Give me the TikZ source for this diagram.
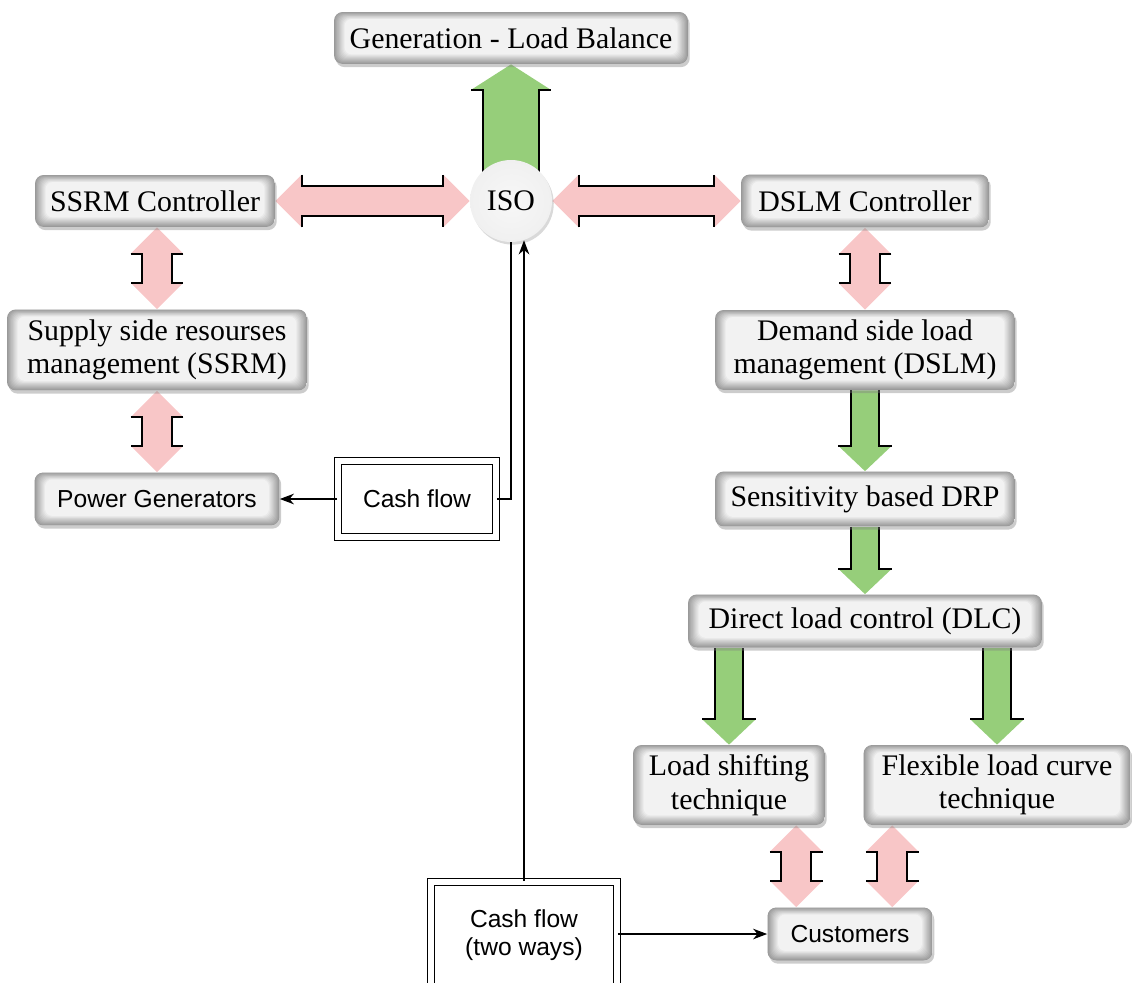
\documentclass[tikz,border=0pt]{standalone}
\usepackage{fontspec}
\setmainfont{Liberation Serif}
\newfontfamily\sansfont{Liberation Sans}
\usetikzlibrary{calc,shadows,arrows.meta,backgrounds}

\definecolor{pinkfill}{RGB}{248,198,199}
\definecolor{greenfill}{RGB}{150,206,122}

\pgfdeclareradialshading{isoshade}{\pgfpoint{0bp}{0bp}}{color(0bp)=(gray!6); color(26bp)=(gray!12); color(40bp)=(gray!30); color(50bp)=(gray!72)}

\tikzset{
  box/.style={rounded corners=5pt, fill=gray!15, align=center,
    font=\fontsize{17}{19}\selectfont,
    drop shadow={shadow xshift=1pt, shadow yshift=-1.8pt, opacity=0.4, fill=gray},
    path picture={\foreach \i [evaluate=\i as \c using int(80-7*\i)] in {0,...,10}{
      \fill[gray!\c, rounded corners=4pt]
        ([shift={(\i*0.6pt,\i*0.55pt)}]path picture bounding box.south west) rectangle
        ([shift={(-\i*0.6pt,-\i*0.4pt)}]path picture bounding box.north east);}}},
  sbox/.style={box, font=\sansfont\fontsize{14}{16}\selectfont},
  cashbox/.style={draw, double, double distance=3pt, line width=0.9pt, align=center,
    font=\sansfont\fontsize{14}{16}\selectfont},
  link/.style={line width=0.9pt, -{Stealth[length=8pt,width=6pt,inset=2.5pt]}}
}

% fat single arrow: from, tip, shaft half width, head half width, colour
\newcommand{\fatarrow}[5]{%
  \coordinate (hb) at ($(#2)!14.5pt!(#1)$);
  \fill[#5] ($(#1)!#3!90:(#2)$) -- ($(hb)!#3!90:(#2)$) -- ($(hb)!#4!90:(#2)$) -- (#2)
    -- ($(hb)!#4!-90:(#2)$) -- ($(hb)!#3!-90:(#2)$) -- ($(#1)!#3!-90:(#2)$) -- cycle;
  \draw[line width=1pt] ($(#1)!#3!90:(#2)$) -- ($(hb)!#3!90:(#2)$) -- ($(hb)!#4!90:(#2)$);
  \draw[line width=1pt] ($(#1)!#3!-90:(#2)$) -- ($(hb)!#3!-90:(#2)$) -- ($(hb)!#4!-90:(#2)$);
}

% pink double arrow between two points
\newcommand{\dblarrow}[2]{%
  \coordinate (ha) at ($(#1)!15pt!(#2)$);
  \coordinate (hb) at ($(#2)!15pt!(#1)$);
  \fill[pinkfill] (#1) -- ($(ha)!15pt!90:(#2)$) -- ($(ha)!8.5pt!90:(#2)$) -- ($(hb)!8.5pt!90:(#2)$)
    -- ($(hb)!15pt!90:(#2)$) -- (#2) -- ($(hb)!15pt!-90:(#2)$) -- ($(hb)!8.5pt!-90:(#2)$)
    -- ($(ha)!8.5pt!-90:(#2)$) -- ($(ha)!15pt!-90:(#2)$) -- cycle;
  \draw[line width=1pt] ($(ha)!15pt!90:(#2)$) -- ($(ha)!8.5pt!90:(#2)$) -- ($(hb)!8.5pt!90:(#2)$) -- ($(hb)!15pt!90:(#2)$);
  \draw[line width=1pt] ($(ha)!15pt!-90:(#2)$) -- ($(ha)!8.5pt!-90:(#2)$) -- ($(hb)!8.5pt!-90:(#2)$) -- ($(hb)!15pt!-90:(#2)$);
}

\begin{document}
\begin{tikzpicture}[x=0.02cm, y=-0.02cm]

    \useasboundingbox (0,0) rectangle (1132,983);
    \clip (0,0) rectangle (1132,983);

    % Boxes
    \node[box, minimum width=7.08cm, minimum height=1.04cm] (glb) at (511,38) {Generation - Load Balance};
    \node[box, minimum width=4.8cm, minimum height=1.04cm] (ssrmc) at (155,201) {SSRM Controller};
    \node[box, minimum width=6.0cm, minimum height=1.62cm] (ssrm) at (157,350) {Supply side resourses\\management (SSRM)};
    \node[sbox, minimum width=4.9cm, minimum height=1.06cm] (gen) at (157,499) {Power Generators};
    \node[box, minimum width=4.96cm, minimum height=1.06cm] (dslmc) at (865,201) {DSLM Controller};
    \node[box, minimum width=6.0cm, minimum height=1.6cm] (dslm) at (865,350) {Demand side load\\management (DSLM)};
    \node[box, minimum width=6.0cm, minimum height=1.1cm] (drp) at (865,499) {Sensitivity based DRP};
    \node[box, minimum width=7.08cm, minimum height=1.06cm] (dlc) at (865,621) {Direct load control (DLC)};
    \node[box, minimum width=3.84cm, minimum height=1.6cm] (shift) at (729,785) {Load shifting\\technique};
    \node[box, minimum width=5.34cm, minimum height=1.6cm] (flex) at (997,785) {Flexible load curve\\technique};
    \node[sbox, minimum width=3.3cm, minimum height=1.06cm] (cust) at (850,934) {Customers};

    % ISO
    \node[circle, minimum size=1.64cm, inner sep=0pt, shading=isoshade,
          drop shadow={shadow xshift=1pt, shadow yshift=-1.5pt, opacity=0.3, fill=gray},
          font=\fontsize{17}{19}\selectfont] (iso) at (511,201) {ISO};

    % Cash flow boxes
    \node[cashbox, minimum width=3.16cm, minimum height=1.52cm] (cash1) at (417,499) {Cash flow};
    \node[cashbox, minimum width=3.72cm, minimum height=2.12cm] (cash2) at (524,935) {Cash flow\\(two ways)};

    % Fat arrows
    \begin{scope}[on background layer]
        \fatarrow{iso.center}{glb.south}{15.9pt}{22.7pt}{greenfill}
        \dblarrow{ssrmc.east}{iso.west}
        \dblarrow{iso.east}{dslmc.west}
        \coordinate (p1) at (ssrm.north |- ssrmc.south);
        \dblarrow{p1}{ssrm.north}
        \dblarrow{ssrm.south}{gen.north}
        \dblarrow{dslmc.south}{dslm.north}
        \fatarrow{dslm.south}{drp.north}{7.9pt}{15.3pt}{greenfill}
        \fatarrow{drp.south}{dlc.north}{7.9pt}{15.3pt}{greenfill}
        \coordinate (g1) at (dlc.south -| shift.north);
        \fatarrow{g1}{shift.north}{7.9pt}{15.3pt}{greenfill}
        \coordinate (g2) at (dlc.south -| flex.north);
        \fatarrow{g2}{flex.north}{7.9pt}{15.3pt}{greenfill}
        \coordinate (c1) at ([xshift=0.58cm]cust.north west);
        \coordinate (s1) at (c1 |- shift.south);
        \dblarrow{s1}{c1}
        \coordinate (f1) at ([xshift=0.58cm]flex.south west);
        \coordinate (c2) at (f1 |- cust.north);
        \dblarrow{f1}{c2}
    \end{scope}

    % Cash flow lines
    \draw[line width=0.9pt] (iso.south) |- (cash1.east);
    \draw[link] (cash1.west) -- (gen.east);
    \draw[link] (cash2.north) -- (cash2.north |- iso.-72);
    \draw[link] (cust.west -| cash2.east) -- (cust.west);

\end{tikzpicture}
\end{document}
